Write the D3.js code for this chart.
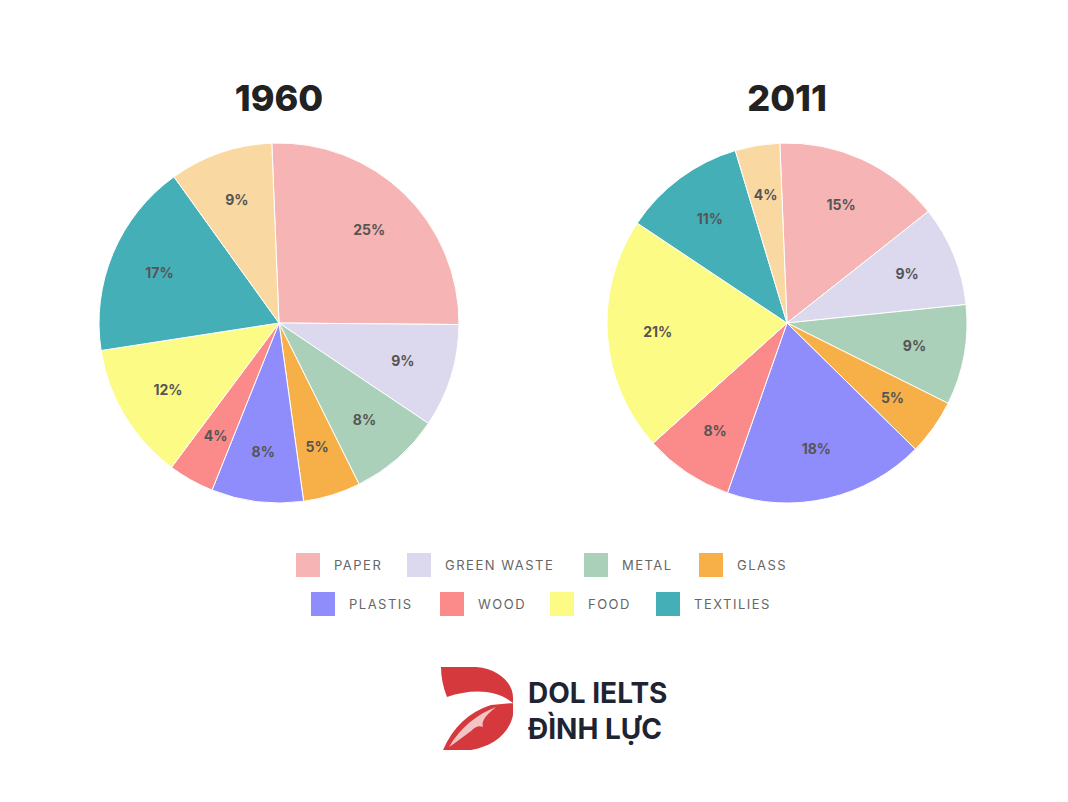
<!DOCTYPE html>
<html><head><meta charset="utf-8">
<script src="https://cdn.jsdelivr.net/npm/d3@7"></script>
<style>body{margin:0;background:#fff}</style>
</head><body>
<script>
// categories and values
var categories = ['Paper','Green waste','Metal','Glass','Plastis','Wood','Food','Textiles','Other'];
var values1960 = [25, 9, 8, 5, 8, 4, 12, 17, 9];
var values2011 = [15, 9, 9, 5, 18, 8, 21, 11, 4];
var colors = ['#f7b4b4','#dcd9ee','#abd0b9','#f7b048','#8f8cfb','#fb8a8a','#fbfb86','#45afb7','#f9d8a2'];
var legendRow1 = ['PAPER','GREEN WASTE','METAL','GLASS'];
var legendRow2 = ['PLASTIS','WOOD','FOOD','TEXTILIES'];

var W = 1068, H = 802, r = 180;
var svg = d3.select('body').append('svg').attr('width', W).attr('height', H);

var pie = d3.pie().sort(null).startAngle(-0.04).endAngle(2*Math.PI-0.04);
var arc = d3.arc().innerRadius(0).outerRadius(r);
var labelArc = d3.arc().innerRadius(r*0.72).outerRadius(r*0.72);

function drawPie(cx, cy, title, vals){
  var g = svg.append('g').attr('transform', 'translate(' + cx + ',' + cy + ')');
  var arcs = pie(vals);
  g.selectAll('path').data(arcs).enter().append('path')
    .attr('d', arc)
    .attr('fill', (d, i) => colors[i])
    .attr('stroke', '#fff').attr('stroke-width', 1);
  g.selectAll('text.lab').data(arcs).enter().append('text')
    .attr('class', 'lab')
    .attr('transform', d => 'translate(' + labelArc.centroid(d) + ')')
    .attr('text-anchor', 'middle').attr('dy', '0.35em')
    .attr('font-family', 'Inter, sans-serif').attr('font-weight', 700)
    .attr('font-size', 14).attr('fill', '#555')
    .text(d => d.data + '%');
  svg.append('text').attr('x', cx).attr('y', 111)
    .attr('text-anchor', 'middle')
    .attr('font-family', 'Inter, sans-serif').attr('font-weight', 800)
    .attr('font-size', 36).attr('fill', '#222').text(title);
}
drawPie(279, 323, '1960', values1960);
drawPie(787, 323, '2011', values2011);

// legend
function legendRow(items, colorIdx, xs, y){
  items.forEach(function(t, i){
    svg.append('rect').attr('x', xs[i]).attr('y', y-12).attr('width', 24).attr('height', 24)
      .attr('fill', colors[colorIdx[i]]);
    svg.append('text').attr('x', xs[i]+38).attr('y', y).attr('dy', '0.35em')
      .attr('font-family', 'Inter, sans-serif').attr('font-size', 13)
      .attr('letter-spacing', 1.5).attr('fill', '#666').text(t);
  });
}
legendRow(legendRow1, [0,1,2,3], [296,407,584,699], 565);
legendRow(legendRow2, [4,5,6,7], [311,440,550,656], 604);

// logo
var logo = svg.append('g').attr('transform', 'translate(441,667)');
logo.append('path').attr('fill', '#d5393e')
  .attr('d', 'M0,0 L35,0 C60,2 72,18 72,30 L72,48 C68,68 50,80 30,83 L2,83 C12,60 28,45 50,38 L72,36 C55,22 30,22 6,30 C2,20 0,10 0,0 Z');
logo.append('path').attr('fill', '#f3c4c4')
  .attr('d', 'M8,80 C20,60 35,48 55,40 C45,48 40,54 42,60 C38,58 34,60 30,64 C22,70 14,76 8,80 Z');
svg.append('text').attr('x', 528).attr('y', 703)
  .attr('font-family', 'Inter, sans-serif').attr('font-weight', 700)
  .attr('font-size', 28).attr('fill', '#1f2433').text('DOL IELTS');
svg.append('text').attr('x', 528).attr('y', 739)
  .attr('font-family', 'Inter, sans-serif').attr('font-weight', 700)
  .attr('font-size', 28).attr('fill', '#1f2433').text('ĐÌNH LỰC');
</script>
</body></html>
